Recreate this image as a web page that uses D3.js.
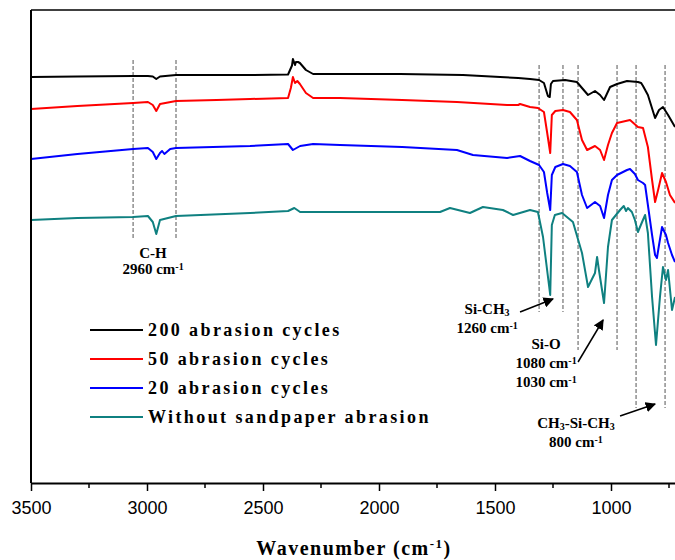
<!DOCTYPE html>
<html>
<head>
<meta charset="utf-8">
<script src="https://cdn.jsdelivr.net/npm/d3@7"></script>
<style>
body { margin: 0; background: #fff; }
svg { display: block; }
.serif { font-family: "Liberation Serif", "DejaVu Serif", serif; font-weight: bold; }
</style>
</head>
<body>
<svg id="chart" width="675" height="560"></svg>
<script>
// series: [wavenumber, transmittance (a.u.)]
var s200 = [[3500,81.2],[3300,81.3],[3060,81.4],[2996,81.4],[2975,81.3],[2960,80.8],[2944,81.3],[2875,81.6],[2700,81.6],[2556,81.6],[2392,81.7],[2375,83.5],[2371,84.8],[2362,83.6],[2358,84.2],[2349,84.2],[2341,84.0],[2315,82.6],[2284,81.8],[2211,81.8],[1909,81.8],[1638,81.6],[1478,81.2],[1400,81.0],[1349,80.8],[1310,80.6],[1289,80.0],[1272,77.4],[1264,77.2],[1259,79.8],[1250,80.4],[1198,80.6],[1147,80.2],[1125,79.0],[1099,77.6],[1069,78.4],[1047,77.6],[1030,76.6],[1004,79.2],[974,79.8],[931,80.4],[884,80.2],[870,80.0],[862,79.4],[841,77.6],[810,73.0],[793,74.6],[776,75.2],[754,73.6],[724,71.2]];
var s50 = [[3500,74.8],[3300,75.4],[3060,76.0],[2996,76.2],[2975,75.6],[2960,74.4],[2944,75.8],[2875,76.4],[2700,76.6],[2556,76.8],[2392,77.0],[2380,79.0],[2371,81.2],[2362,80.0],[2352,80.4],[2341,79.8],[2315,78.0],[2284,77.0],[2168,77.0],[1900,76.6],[1664,76.2],[1448,75.6],[1400,75.6],[1392,75.8],[1349,75.2],[1315,75.0],[1289,74.2],[1275,70.0],[1262,66.0],[1255,73.6],[1240,74.4],[1207,74.6],[1177,74.2],[1147,72.6],[1125,68.6],[1103,66.6],[1069,67.4],[1047,66.6],[1030,64.6],[1013,67.6],[996,70.0],[974,72.0],[918,72.6],[884,71.2],[862,71.0],[841,67.2],[823,60.6],[810,56.2],[797,58.6],[780,62.0],[763,60.2],[746,57.6],[724,56.0]];
var s20 = [[3500,64.8],[3300,65.8],[3060,66.8],[2996,67.0],[2975,66.2],[2960,64.8],[2944,66.0],[2935,66.4],[2925,65.8],[2900,66.8],[2875,67.0],[2556,67.4],[2392,67.8],[2371,66.6],[2340,67.4],[2284,67.8],[2168,67.6],[1900,67.2],[1664,66.6],[1595,65.6],[1448,65.0],[1392,65.4],[1349,64.4],[1310,63.6],[1289,62.2],[1275,58.0],[1262,54.6],[1255,61.6],[1240,63.2],[1207,63.8],[1177,63.4],[1147,62.2],[1125,57.6],[1103,55.0],[1069,56.2],[1047,55.4],[1030,53.0],[1013,57.6],[996,60.6],[974,61.6],[931,62.6],[918,62.8],[897,61.8],[884,60.6],[862,60.0],[853,59.6],[841,55.6],[823,49.6],[810,45.6],[802,45.0],[793,47.6],[780,51.2],[763,49.6],[754,48.0],[737,45.6],[724,44.2]];
var s0 = [[3500,52.6],[3300,53.0],[3060,53.2],[2996,53.4],[2975,52.2],[2960,49.8],[2944,52.6],[2875,53.4],[2556,54.0],[2392,54.4],[2365,55.0],[2340,54.2],[2168,54.2],[1737,54.2],[1694,55.0],[1608,54.0],[1552,55.2],[1466,54.6],[1422,53.6],[1349,54.6],[1315,54.2],[1293,49.2],[1262,37.6],[1255,51.6],[1242,53.6],[1211,54.0],[1164,52.2],[1125,46.0],[1099,39.2],[1069,42.0],[1060,45.2],[1052,42.6],[1030,36.0],[1013,47.2],[996,52.6],[961,54.6],[945,55.4],[935,54.4],[927,55.0],[910,54.2],[897,52.6],[884,50.2],[866,52.2],[853,53.6],[841,50.0],[823,37.2],[806,27.6],[789,37.2],[776,43.2],[763,40.6],[754,42.6],[737,34.6],[724,37.2]];

var seriesNames = ["200 abrasion cycles", "50 abrasion cycles", "20 abrasion cycles", "Without sandpaper abrasion"];
var seriesColors = ["#000000", "#ff0000", "#0000ff", "#0f8080"];
var seriesData = [s200, s50, s20, s0];

var xTicks = [3500, 3000, 2500, 2000, 1500, 1000];
var xMinor = [3250, 2750, 2250, 1750, 1250, 750];

// dashed marker lines: [wavenumber, top, bottom]
var markLines = [[3060,84.6,49.0],[2875,84.6,49.0],[1310,83.6,34.2],[1207,83.6,34.2],[1142,83.6,26.6],[974,83.6,26.6],[892,83.6,15.0],[767,83.6,15.0]];
// arrows: [from wn, from val, to wn, to val]
var arrows = [[1392,34.2,1250,36.8],[1142,24.2,1034,32.6],[961,13.4,810,15.8]];

var svg = d3.select("#chart");
var L = 31, T = 10, B = 483;
var x = d3.scaleLinear().domain([3500, 400]).range([L, L + 3100 * 0.232]);
var y = d3.scaleLinear().domain([0, 94.6]).range([B, T]);

svg.append("clipPath").attr("id", "clip").append("rect")
 .attr("x", L).attr("y", T).attr("width", 675 - L).attr("height", B - T);

// dashed lines
svg.append("g").selectAll("line").data(markLines).enter().append("line")
 .attr("x1", function(d){ return x(d[0]); }).attr("x2", function(d){ return x(d[0]); })
 .attr("y1", function(d){ return y(d[1]); }).attr("y2", function(d){ return y(d[2]); })
 .attr("stroke", "#555").attr("stroke-width", 1).attr("stroke-dasharray", "4,2");

var line = d3.line().x(function(d){ return x(d[0]); }).y(function(d){ return y(d[1]); });
svg.append("g").attr("clip-path", "url(#clip)").selectAll("path").data(seriesData).enter().append("path")
 .attr("d", line).attr("fill", "none")
 .attr("stroke", function(d, i){ return seriesColors[i]; })
 .attr("stroke-width", 2).attr("stroke-linejoin", "round");

// frame
svg.append("line").attr("x1", L).attr("x2", 675).attr("y1", T).attr("y2", T).attr("stroke", "#000").attr("stroke-width", 1.5);
svg.append("line").attr("x1", L).attr("x2", L).attr("y1", T).attr("y2", B).attr("stroke", "#000").attr("stroke-width", 2);

var ax = svg.append("g").attr("transform", "translate(0," + B + ")")
 .call(d3.axisBottom(x).tickValues(xTicks).tickFormat(d3.format("d")).tickSize(8).tickPadding(10).tickSizeOuter(0));
ax.select(".domain").attr("stroke-width", 2);
ax.selectAll(".tick line").attr("stroke-width", 1.5);
ax.selectAll("text").style("font-family", "Liberation Sans, Arial, sans-serif").style("font-size", "18px").attr("fill", "#000");
svg.append("g").attr("transform", "translate(0," + B + ")").selectAll("line").data(xMinor).enter().append("line")
 .attr("x1", function(d){ return x(d); }).attr("x2", function(d){ return x(d); })
 .attr("y1", 0).attr("y2", 5).attr("stroke", "#000").attr("stroke-width", 1.5);

var title = svg.append("text").attr("class", "serif").attr("x", 354).attr("y", 555)
 .attr("text-anchor", "middle").style("font-size", "20px").style("letter-spacing", "1.5px");
title.append("tspan").text("Wavenumber (cm");
title.append("tspan").attr("baseline-shift", "super").style("font-size", "13px").text("-1");
title.append("tspan").text(")");

// legend
var lg = svg.append("g").selectAll("g").data(seriesNames).enter().append("g")
 .attr("transform", function(d, i){ return "translate(90," + (330 + i * 29) + ")"; });
lg.append("line").attr("x1", 0).attr("x2", 53).attr("stroke", function(d, i){ return seriesColors[i]; }).attr("stroke-width", 2);
lg.append("text").attr("class", "serif").attr("x", 58).attr("y", 6).style("font-size", "18px")
 .style("letter-spacing", "2.4px").text(function(d){ return d; });

// annotations
function label(wn, v, parts) {
 var t = svg.append("text").attr("class", "serif").attr("x", x(wn)).attr("y", y(v))
  .attr("text-anchor", "middle").style("font-size", "15px");
 parts.forEach(function(p){
  var s = t.append("tspan").text(p[0]);
  if (p[1] == "sup") s.attr("baseline-shift", "4px").style("font-size", "10px");
  if (p[1] == "sub") s.attr("baseline-shift", "-2px").style("font-size", "10px");
 });
}
label(2974, 45.0, [["C-H"]]);
label(2974, 41.8, [["2960 cm"],["-1","sup"]]);
label(1534, 33.8, [["Si-CH"],["3","sub"]]);
label(1534, 30.0, [["1260 cm"],["-1","sup"]]);
label(1280, 26.8, [["Si-O"]]);
label(1280, 23.0, [["1080 cm"],["-1","sup"]]);
label(1280, 19.2, [["1030 cm"],["-1","sup"]]);
label(1151, 11.0, [["CH"],["3","sub"],["-Si-CH"],["3","sub"]]);
label(1151, 7.2, [["800 cm"],["-1","sup"]]);

svg.append("defs").append("marker").attr("id", "arr").attr("viewBox", "0 0 10 10")
 .attr("refX", 9).attr("refY", 5).attr("markerWidth", 7).attr("markerHeight", 7).attr("orient", "auto")
 .append("path").attr("d", "M0,0L10,5L0,10z").attr("fill", "#000");
svg.append("g").selectAll("line").data(arrows).enter().append("line")
 .attr("x1", function(d){ return x(d[0]); }).attr("y1", function(d){ return y(d[1]); })
 .attr("x2", function(d){ return x(d[2]); }).attr("y2", function(d){ return y(d[3]); })
 .attr("stroke", "#000").attr("stroke-width", 1.5).attr("marker-end", "url(#arr)");
</script>
</body>
</html>
